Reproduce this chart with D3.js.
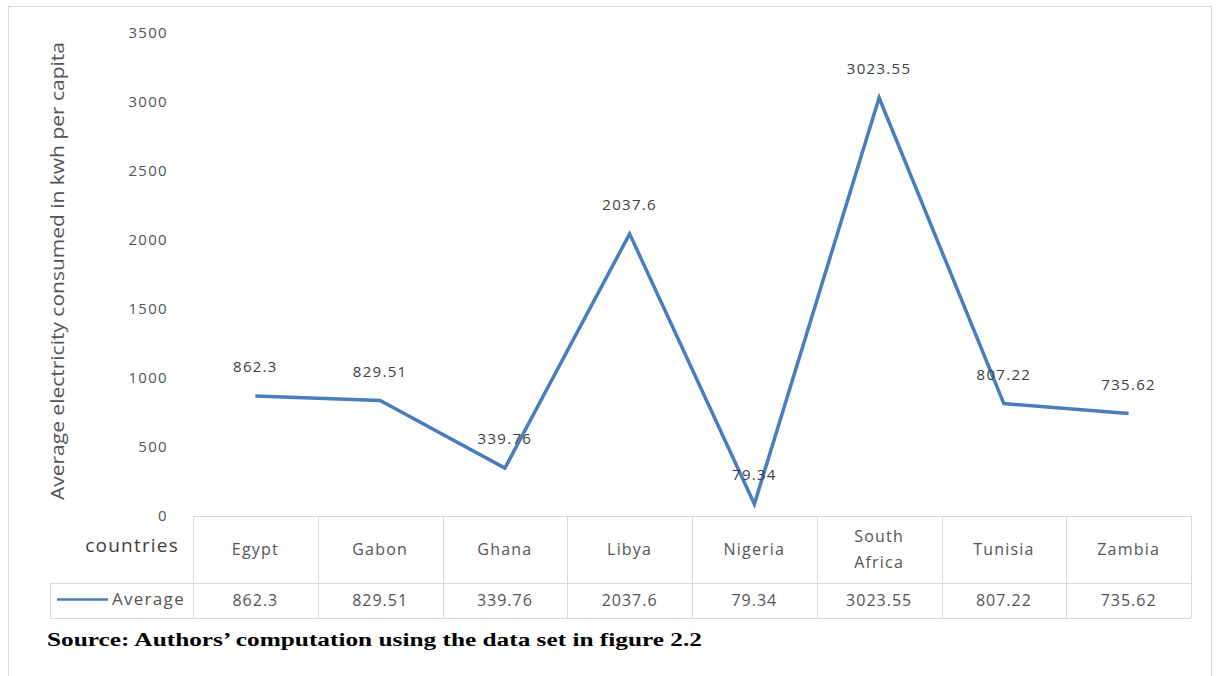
<!DOCTYPE html>
<html><head><meta charset="utf-8">
<script src="https://cdn.jsdelivr.net/npm/d3@7"></script>
<style>body{margin:0;background:#fff}svg{display:block}</style>
</head><body>
<svg id="c" width="1216" height="676"></svg>
<script>
const countries = ["Egypt","Gabon","Ghana","Libya","Nigeria","South Africa","Tunisia","Zambia"];
const countryLines = [["Egypt"],["Gabon"],["Ghana"],["Libya"],["Nigeria"],["South","Africa"],["Tunisia"],["Zambia"]];
const averages = [862.3, 829.51, 339.76, 2037.6, 79.34, 3023.55, 807.22, 735.62];
const averageLabels = ["862.3","829.51","339.76","2037.6","79.34","3023.55","807.22","735.62"];
const yTicks = [0,500,1000,1500,2000,2500,3000,3500];
const seriesName = "Average";
const rowHeader = "countries";
const yTitle = "Average electricity consumed in kwh per capita";
const source = "Source: Authors\u2019 computation using the data set in figure 2.2";

const svg = d3.select("#c");
const font = "'Open Sans', sans-serif";
const grey = "#555555", gridC = "#d9d9d9", blue = "#4a7ebb";

// outer frame
svg.append("rect").attr("x",8.5).attr("y",6.5).attr("width",1203).attr("height",700)
  .attr("fill","none").attr("stroke","#d9d9d9");

const x = d3.scaleBand().domain(countries).range([193,1191]).padding(0);
const y = d3.scaleLinear().domain([0,3500]).range([515,32]);

// y axis
const yAxis = d3.axisLeft(y).tickValues(yTicks).tickFormat(d3.format("d")).tickSize(0).tickPadding(0);
const ga = svg.append("g").attr("transform","translate(168,0)").call(yAxis);
ga.select(".domain").remove();
ga.selectAll("text").attr("font-family",font).attr("font-size",15).attr("fill",grey)
  .attr("letter-spacing","1.3px").attr("dy","0.35em");

// y title
svg.append("text").attr("transform","translate(64,271) rotate(-90)")
  .attr("text-anchor","middle").attr("font-family",font).attr("font-size",18)
  .attr("fill",grey).attr("textLength",458).attr("lengthAdjust","spacingAndGlyphs").text(yTitle);

// table
const tTop = 516, tMid = 583, tBot = 618;
const tg = svg.append("g").attr("stroke",gridC).attr("stroke-width",1).attr("fill","none");
tg.append("line").attr("x1",193).attr("x2",1191).attr("y1",tTop+0.5).attr("y2",tTop+0.5);
tg.append("line").attr("x1",50).attr("x2",1191).attr("y1",tMid+0.5).attr("y2",tMid+0.5);
tg.append("line").attr("x1",50).attr("x2",1191).attr("y1",tBot+0.5).attr("y2",tBot+0.5);
tg.append("line").attr("x1",50.5).attr("x2",50.5).attr("y1",tMid).attr("y2",tBot);
const bounds = countries.map(c=>x(c)).concat([x.range()[1]]);
tg.selectAll("line.v").data(bounds).join("line").attr("class","v")
  .attr("x1",d=>Math.round(d)+0.5).attr("x2",d=>Math.round(d)+0.5).attr("y1",tTop).attr("y2",tBot);

// header cells
const hc = svg.append("g").attr("font-family",font).attr("font-size",16).attr("fill",grey).attr("text-anchor","middle");
countryLines.forEach((lines,i)=>{
  const cx = x(countries[i]) + x.bandwidth()/2;
  const n = lines.length;
  lines.forEach((l,j)=>{
    hc.append("text").attr("x",cx).attr("y",549 + (j-(n-1)/2)*26).attr("dy","0.35em")
      .attr("letter-spacing","1.2px").text(l);
  });
});
svg.append("text").attr("x",179).attr("y",545).attr("dy","0.35em").attr("text-anchor","end")
  .attr("font-family",font).attr("font-size",19).attr("fill","#404040").attr("letter-spacing","1.2px").text(rowHeader);

// value cells
svg.append("g").selectAll("text").data(averages).join("text")
  .attr("x",(d,i)=>x(countries[i])+x.bandwidth()/2).attr("y",600).attr("dy","0.35em")
  .attr("text-anchor","middle").attr("font-family",font).attr("font-size",16).attr("fill",grey)
  .attr("letter-spacing","1px").text((d,i)=>averageLabels[i]);

// legend key
svg.append("line").attr("x1",57).attr("x2",108).attr("y1",599.5).attr("y2",599.5)
  .attr("stroke",blue).attr("stroke-width",2.5);
svg.append("text").attr("x",185).attr("y",599).attr("dy","0.35em").attr("text-anchor","end")
  .attr("font-family",font).attr("font-size",17).attr("fill",grey).attr("letter-spacing","1.3px").text(seriesName);

// line
const line = d3.line().x((d,i)=>x(countries[i])+x.bandwidth()/2).y(d=>y(d));
svg.append("path").datum(averages).attr("d",line).attr("fill","none")
  .attr("stroke",blue).attr("stroke-width",3.5).attr("stroke-linejoin","miter");

// data labels
svg.append("g").selectAll("text").data(averages).join("text")
  .attr("x",(d,i)=>x(countries[i])+x.bandwidth()/2).attr("y",d=>y(d)-29).attr("dy","0.35em")
  .attr("text-anchor","middle").attr("font-family",font).attr("font-size",15).attr("fill","#404040")
  .attr("letter-spacing","1.3px").text((d,i)=>averageLabels[i]);

// source
svg.append("text").attr("x",47).attr("y",646).attr("font-family","'Liberation Serif', 'Times New Roman', serif")
  .attr("font-weight","bold").attr("font-size",19).attr("fill","#000")
  .attr("textLength",655).attr("lengthAdjust","spacingAndGlyphs").text(source);
</script>
</body></html>
